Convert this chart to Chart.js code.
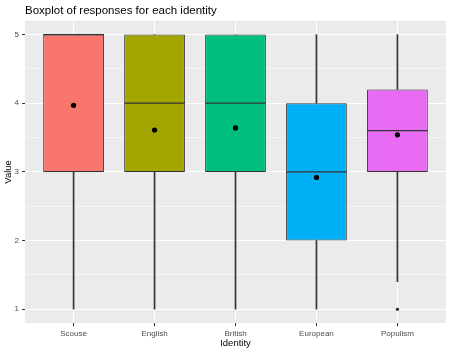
<!DOCTYPE html>
<html>
<head>
<meta charset="utf-8">
<script src="https://cdn.jsdelivr.net/npm/chart.js@4.4.1/dist/chart.umd.min.js"></script>
<style>
  html, body { margin: 0; padding: 0; background: #ffffff; }
  canvas { display: block; }
</style>
</head>
<body>
<canvas id="c" width="451" height="353"></canvas>
<script>
// ---- data ----
const categories = ['Scouse', 'English', 'British', 'European', 'Populism'];
const whiskerLow  = [1, 1, 1, 1, 1.4];
const q1          = [3, 3, 3, 2, 3];
const medians     = [5, 4, 4, 3, 3.6];
const q3          = [5, 5, 5, 4, 4.2];
const whiskerHigh = [5, 5, 5, 5, 5];
const means       = [3.97, 3.61, 3.64, 2.92, 3.54];
const outlierCategory = [4];
const outlierValues   = [1];
const yTicks = [1, 1.5, 2, 2.5, 3, 3.5, 4, 4.5, 5];

const fills = ['#F8766D', '#A3A500', '#00BF7D', '#00B0F6', '#E76BF3'];
const FONT = '"Liberation Sans", Arial, sans-serif';

const plotBg = {
  id: 'plotBg',
  beforeDraw(chart) {
    const a = chart.chartArea, ctx = chart.ctx;
    ctx.save();
    ctx.fillStyle = '#EBEBEB';
    ctx.fillRect(a.left, a.top, a.right - a.left, a.bottom - a.top);
    ctx.restore();
  }
};

new Chart(document.getElementById('c'), {
  type: 'bar',
  data: {
    datasets: [
      {
        label: 'lower whisker', order: 5, grouped: false,
        data: categories.map((c, i) => ({ x: i, y: [whiskerLow[i], q1[i]] })),
        backgroundColor: '#333333', borderWidth: 0, barThickness: 1
      },
      {
        label: 'upper whisker', order: 5, grouped: false,
        data: categories.map((c, i) => ({ x: i, y: [q3[i], whiskerHigh[i]] })),
        backgroundColor: '#333333', borderWidth: 0, barThickness: 1
      },
      {
        label: 'box', order: 4, grouped: false,
        data: categories.map((c, i) => ({ x: i, y: [q1[i], q3[i]] })),
        backgroundColor: fills, borderColor: '#333333', borderWidth: 1,
        borderSkipped: false, categoryPercentage: 1, barPercentage: 0.75
      },
      {
        type: 'line', label: 'median', order: 3, showLine: false,
        data: categories.map((c, i) => ({ x: i, y: medians[i] })),
        pointStyle: 'line', pointRadius: 30.4, pointBorderColor: '#333333',
        pointBorderWidth: 1.2, pointBackgroundColor: '#333333'
      },
      {
        type: 'line', label: 'mean', order: 2, showLine: false,
        data: categories.map((c, i) => ({ x: i, y: means[i] })),
        pointStyle: 'circle', pointRadius: 2.6, pointBorderWidth: 0,
        pointBackgroundColor: '#000000'
      },
      {
        type: 'line', label: 'outlier', order: 1, showLine: false,
        data: outlierCategory.map((c, i) => ({ x: c, y: outlierValues[i] })),
        pointStyle: 'circle', pointRadius: 1.6, pointBorderWidth: 0,
        pointBackgroundColor: '#222222'
      }
    ]
  },
  options: {
    responsive: false,
    animation: false,
    devicePixelRatio: 1,
    layout: { autoPadding: false, padding: { left: 0, right: 5, top: 0, bottom: 3 } },
    plugins: {
      legend: { display: false },
      tooltip: { enabled: false },
      title: {
        display: true, text: 'Boxplot of responses for each identity',
        align: 'start', fullSize: false, color: '#000000',
        font: { family: FONT, size: 11.5, weight: 'normal' },
        padding: { top: 4, bottom: 3 }
      }
    },
    scales: {
      x: {
        type: 'linear', min: -0.6, max: 4.6, offset: false,
        afterBuildTicks(s) { s.ticks = categories.map((c, i) => ({ value: i })); },
        afterFit(s) { s.height = 27; },
        ticks: {
          callback: (v) => categories[v], color: '#4D4D4D',
          font: { family: FONT, size: 8 }, padding: 3, maxRotation: 0, autoSkip: false
        },
        grid: { offset: false, color: '#FFFFFF', lineWidth: 1, tickColor: '#333333', tickLength: 3, tickWidth: 1 },
        border: { display: false },
        title: {
          display: true, text: 'Identity', color: '#000000',
          font: { family: FONT, size: 9.5 }, padding: { top: 0, bottom: 1 }
        }
      },
      y: {
        type: 'linear', min: 0.8, max: 5.2,
        afterBuildTicks(s) { s.ticks = yTicks.map(v => ({ value: v })); },
        afterFit(s) { s.width = 25; },
        ticks: {
          callback: (v) => Number.isInteger(v) ? String(v) : '',
          color: '#4D4D4D', font: { family: FONT, size: 8 }, padding: 3
        },
        grid: {
          color: (ctx) => Number.isInteger(ctx.tick.value) ? '#FFFFFF' : '#F6F6F6',
          lineWidth: 1,
          tickColor: (ctx) => Number.isInteger(ctx.tick.value) ? '#333333' : 'rgba(0,0,0,0)',
          tickLength: 3, tickWidth: 1
        },
        border: { display: false },
        title: {
          display: true, text: 'Value', color: '#000000',
          font: { family: FONT, size: 9.5 }, padding: { top: 3, bottom: 0 }
        }
      }
    }
  },
  plugins: [plotBg]
});
</script>
</body>
</html>
